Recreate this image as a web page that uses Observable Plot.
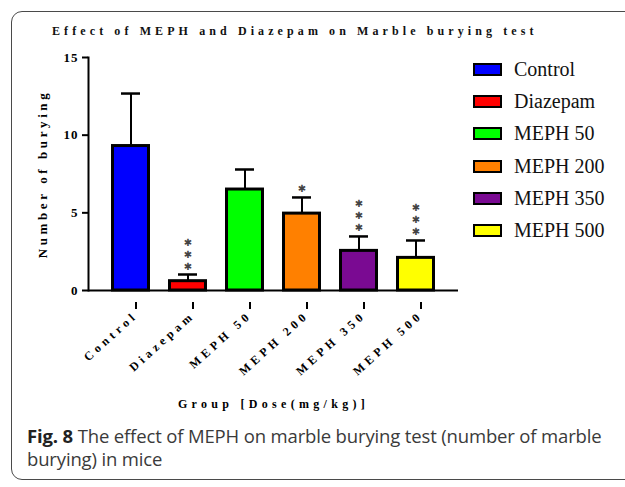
<!DOCTYPE html>
<html>
<head>
<meta charset="utf-8">
<script src="https://cdn.jsdelivr.net/npm/d3@7"></script>
<script src="https://cdn.jsdelivr.net/npm/@observablehq/plot@0.6"></script>
<style>
  html, body { margin: 0; padding: 0; background: #fff; width: 625px; height: 487px; overflow: hidden; }
  #box { position: absolute; left: 11px; top: 11px; width: 720px; height: 469px; border: 1.5px solid #4a4a4a; border-radius: 11px; box-sizing: border-box; }
  #title { position: absolute; left: 52px; top: 24px; font-family: "Liberation Serif", serif; font-weight: bold; font-size: 12px; letter-spacing: 4.1px; color: #111; white-space: nowrap; }
  #chart { position: absolute; left: 0; top: 0; }
  #legend { position: absolute; left: 473px; top: 57px; font-family: "Liberation Serif", serif; font-size: 20px; color: #111; }
  .row { position: absolute; left: 0; height: 24px; white-space: nowrap; }
  .sw { position: absolute; left: 0; top: 6px; width: 29px; height: 13px; border: 2.5px solid #000; box-sizing: border-box; }
  .lab { position: absolute; left: 41px; top: 0; line-height: 24px; }
  #caption { position: absolute; left: 27px; top: 424px; font-family: "Open Sans", sans-serif; font-size: 18.5px; line-height: 23px; color: #3a3a3a; letter-spacing: -0.15px; white-space: nowrap; }
  #caption b { color: #222; }
  g[aria-label="y-axis label"] text { letter-spacing: 3.6px; }
  g[aria-label="x-axis label"] text { letter-spacing: 4.3px; }
  g[aria-label="x-axis tick label"] text { letter-spacing: 4px; }
  g[aria-label="y-axis tick label"] text { letter-spacing: 1px; }
</style>
</head>
<body>
<div id="box"></div>
<div id="chart"></div>
<div id="title">Effect of MEPH and Diazepam on Marble burying test</div>
<div id="legend"></div>
<div id="caption"><b>Fig. 8</b> The effect of MEPH on marble burying test (number of marble<br>burying) in mice</div>
<script>
const groups = ["Control", "Diazepam", "MEPH 50", "MEPH 200", "MEPH 350", "MEPH 500"];
const means = [9.3, 0.6, 6.5, 4.95, 2.55, 2.1];
const sems = [3.38, 0.43, 1.29, 1.04, 0.93, 1.12];
const sig = ["", "***", "", "*", "***", "***"];
const colors = ["#0000ff", "#ff0000", "#00ff00", "#ff8000", "#7a0a92", "#ffff00"];
const yTicks = [0, 5, 10, 15];

const data = groups.map((g, i) => ({
  group: g, mean: means[i], upper: means[i] + sems[i],
  sig: sig[i].split("").map(() => "\u2731").join("\n"), color: colors[i]
}));

const chart = Plot.plot({
  width: 625,
  height: 420,
  marginLeft: 88,
  marginRight: 167,
  marginTop: 57,
  marginBottom: 130,
  style: { fontFamily: "'Liberation Serif', serif", fontSize: "12px", fontWeight: "bold", color: "#000", background: "transparent", overflow: "visible" },
  x: { domain: groups, paddingInner: 0.31, paddingOuter: 0.345, label: null },
  y: { domain: [0, 15], label: null },
  marks: [
    Plot.barY(data, { x: "group", y: "mean", fill: "color", stroke: "#000", strokeWidth: 3, insetLeft: 1.5, insetRight: 1.5 }),
    Plot.ruleX(data, { x: "group", y1: "mean", y2: "upper", stroke: "#000", strokeWidth: 2 }),
    Plot.tickY(data, { x: "group", y: "upper", stroke: "#000", strokeWidth: 2.5, insetLeft: 10, insetRight: 10 }),
    Plot.text(data, { x: "group", y: "upper", text: "sig", lineAnchor: "bottom", lineHeight: 1.2, fontSize: 10, fontFamily: "DejaVu Sans", fontWeight: "normal", fill: "#444", dy: -5 }),
    Plot.frame({ anchor: "left", stroke: "#000", strokeWidth: 2 }),
    Plot.ruleY([0], { stroke: "#000", strokeWidth: 2 }),
    Plot.axisY({ ticks: yTicks, tickSize: 6, tickPadding: 4, strokeWidth: 2, fontSize: 13, label: "Number of burying", labelAnchor: "center", labelOffset: 51, labelArrow: "none" }),
    Plot.axisX({ tickRotate: -42, tickSize: 7, tickPadding: 4, strokeWidth: 2, dx: 5, dy: 12, label: null, fontSize: 12 }),
    Plot.axisX({ ticks: [], label: "Group [Dose(mg/kg)]", labelAnchor: "center", labelOffset: 117, labelArrow: "none", fontSize: 12 })
  ]
});
document.getElementById("chart").appendChild(chart);

const legend = document.getElementById("legend");
groups.forEach((g, i) => {
  const row = document.createElement("div");
  row.className = "row";
  row.style.top = (i * 32.2) + "px";
  const sw = document.createElement("div");
  sw.className = "sw";
  sw.style.background = colors[i];
  const lab = document.createElement("div");
  lab.className = "lab";
  lab.textContent = g;
  row.appendChild(sw);
  row.appendChild(lab);
  legend.appendChild(row);
});
</script>
</body>
</html>
